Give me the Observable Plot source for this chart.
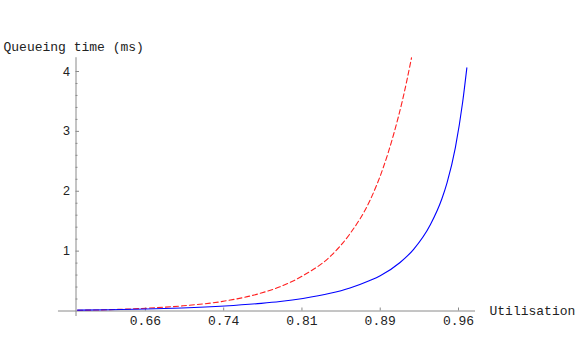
<!DOCTYPE html>
<html>
<head>
<meta charset="utf-8">
<script src="https://cdn.jsdelivr.net/npm/d3@7"></script>
<script src="https://cdn.jsdelivr.net/npm/@observablehq/plot@0.6"></script>
<style>
  html, body { margin: 0; padding: 0; background: #fff; }
  #chart svg { display: block; }
</style>
</head>
<body>
<div id="chart"></div>
<script>
// Data
const blueU = [0.600, 0.630, 0.666, 0.700, 0.741, 0.776, 0.794, 0.816, 0.842, 0.861, 0.880, 0.890, 0.909, 0.922, 0.938, 0.949, 0.954, 0.962, 0.969, 0.973];
const blueV = [0.015, 0.022, 0.034, 0.051, 0.084, 0.128, 0.159, 0.21, 0.295, 0.385, 0.51, 0.59, 0.81, 1.03, 1.44, 1.87, 2.14, 2.73, 3.49, 4.06];
const redU = [0.600, 0.630, 0.666, 0.700, 0.741, 0.776, 0.794, 0.816, 0.842, 0.861, 0.880, 0.893, 0.903, 0.912, 0.920];
const redV = [0.012, 0.022, 0.047, 0.085, 0.166, 0.30, 0.405, 0.59, 0.91, 1.29, 1.84, 2.40, 2.96, 3.57, 4.23];

const xTicks = [0.665, 0.74, 0.815, 0.89, 0.965];
const xTickLabels = ["0.66", "0.74", "0.81", "0.89", "0.96"];
const yTicks = [1, 2, 3, 4];
const yTickLabels = ["1", "2", "3", "4"];
const yMinorTicks = [0.2, 0.4, 0.6, 0.8, 1.2, 1.4, 1.6, 1.8, 2.2, 2.4, 2.6, 2.8, 3.2, 3.4, 3.6, 3.8];

const xLabel = "Utilisation";
const yLabel = "Queueing time (ms)";

const blue = blueU.map((u, i) => ({u, v: blueV[i]}));
const red = redU.map((u, i) => ({u, v: redV[i]}));

// Axis geometry (data units)
const xAxisAt = 0.5985;      // where the vertical axis crosses
const xLineStart = 0.5817;
const xLineEnd = 0.9813;
const yLineStart = -0.092;
const yLineEnd = 4.23;
const pxX = 1 / 1044;         // one pixel in x units
const pxY = 1 / 59.9;         // one pixel in y units

const axisColor = "#8a8a8a";
const textColor = "#222";
const mono = "'Liberation Mono', 'DejaVu Sans Mono', monospace";
const sans = "'Liberation Sans', Arial, sans-serif";

const chart = Plot.plot({
  width: 581,
  height: 359,
  marginLeft: 75.5,
  marginRight: 123,
  marginTop: 71,
  marginBottom: 48.5,
  x: {domain: [xAxisAt, 0.965], axis: null},
  y: {domain: [0, 4], axis: null},
  style: {background: "#fff", overflow: "visible"},
  marks: [
    // axes lines
    Plot.ruleY([0], {x1: xLineStart, x2: xLineEnd, stroke: axisColor, strokeWidth: 1}),
    Plot.ruleX([xAxisAt], {y1: yLineStart, y2: yLineEnd, stroke: axisColor, strokeWidth: 1}),
    // x ticks (pointing up)
    Plot.ruleX(xTicks, {x: d => d, y1: 0, y2: 3 * pxY, stroke: axisColor}),
    // y ticks (pointing right)
    Plot.ruleY(yTicks, {y: d => d, x1: xAxisAt, x2: xAxisAt + 3.5 * pxX, stroke: axisColor}),
    Plot.ruleY(yMinorTicks, {y: d => d, x1: xAxisAt, x2: xAxisAt + 2 * pxX, stroke: axisColor}),
    // tick labels
    Plot.text(xTicks, {x: d => d, y: 0, text: (d, i) => xTickLabels[i], dy: 10, fontFamily: mono, fontSize: 13, fill: textColor}),
    Plot.text(yTicks, {x: xAxisAt, y: d => d, text: (d, i) => yTickLabels[i], dx: -6, textAnchor: "end", fontFamily: sans, fontSize: 12.5, fill: textColor}),
    // axis labels
    Plot.text([xLabel], {x: xLineEnd, y: 0, text: d => d, dx: 14, textAnchor: "start", fontFamily: mono, fontSize: 13, fill: textColor}),
    Plot.text([yLabel], {frameAnchor: "top-left", text: d => d, dx: -72.5, dy: -30, textAnchor: "start", fontFamily: mono, fontSize: 13, fill: textColor}),
    // curves
    Plot.line(red, {x: "u", y: "v", stroke: "#ff2020", strokeWidth: 1.1, strokeDasharray: "5,3", curve: "monotone-x"}),
    Plot.line(blue, {x: "u", y: "v", stroke: "#0000ff", strokeWidth: 1.1, curve: "monotone-x"})
  ]
});
document.getElementById("chart").appendChild(chart);
</script>
</body>
</html>
